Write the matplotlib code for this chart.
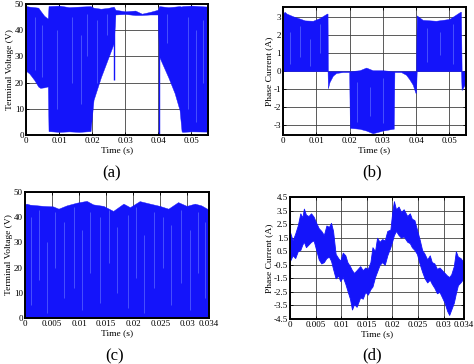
import matplotlib
matplotlib.use('Agg')
import matplotlib.pyplot as plt

plt.rcParams['font.family'] = ['Liberation Serif', 'DejaVu Serif']

BLUE = '#1414fa'
STREAK = '#5c68ff'

# ---- (a) terminal voltage, envelope of the PWM band (t in s, volts)
a_t = [0.0, 0.001, 0.0025, 0.0037, 0.0043, 0.0055, 0.0064, 0.0066,
       0.0068, 0.010, 0.013, 0.016, 0.0195, 0.0204, 0.0226, 0.0247,
       0.0265, 0.0270, 0.030, 0.033, 0.035, 0.0375, 0.0398,
       0.0402, 0.043, 0.0449, 0.0464, 0.0470, 0.0472, 0.050, 0.055]
a_hi = [49.2, 49.0, 48.8, 48.6, 47.5, 45.5, 44.6, 44.6,
        49.2, 49.4, 48.8, 49.0, 49.2, 48.6, 48.2, 48.5,
        49.0, 47.8, 47.2, 47.5, 46.3, 47.0, 47.8,
        49.2, 48.8, 49.0, 49.2, 49.0, 49.2, 49.4, 49.0]
a_lo = [24.5, 23.5, 21.0, 18.5, 18.0, 18.2, 18.5, 18.5,
        1.5, 1.2, 1.4, 1.2, 1.5, 13.4, 22.0, 29.0,
        35.0, 46.0, 46.2, 45.8, 45.8, 46.0, 46.0,
        30.0, 22.0, 16.0, 9.5, 1.5, 1.2, 1.4, 1.3]
a_spike_t = [0.0265, 0.0401]
a_spike_lo = [21.0, 0.0]
a_spike_hi = [46.0, 47.0]
# light streaks inside the band
a_st_t = [0.0027, 0.0047, 0.0093, 0.0139, 0.0165, 0.0185, 0.0215, 0.0245,
          0.0425, 0.0490, 0.0515, 0.0535]
a_st_lo = [25, 22, 10, 20, 12, 30, 20, 38, 35, 10, 5, 20]
a_st_hi = [45, 42, 40, 45, 38, 46, 44, 46, 46, 45, 40, 44]

# ---- (b) phase current
b_t = [0.0, 0.0005, 0.0011, 0.003, 0.0046, 0.0066, 0.009, 0.011, 0.0132, 0.0134,
       0.0135, 0.014, 0.015, 0.016, 0.018, 0.0199,
       0.0201, 0.023, 0.025, 0.027, 0.030, 0.0331, 0.0333,
       0.0335, 0.0355, 0.037, 0.038, 0.039, 0.0398, 0.0400,
       0.0402, 0.042, 0.046, 0.050, 0.0533, 0.0535,
       0.0537, 0.0545, 0.055]
b_hi = [3.2, 3.3, 3.2, 3.05, 2.95, 2.82, 2.8, 2.95, 3.2, 3.2,
        0.0, 0.0, 0.0, 0.0, 0.0, 0.0,
        0.0, 0.05, 0.2, 0.05, 0.05, 0.0, 0.0,
        0.0, 0.0, 0.0, 0.0, 0.0, 0.0, 0.0,
        3.1, 2.85, 2.8, 2.9, 3.3, 3.3,
        0.0, 0.0, 0.0]
b_lo = [0.0, 0.0, 0.0, 0.0, 0.0, 0.0, 0.0, 0.0, 0.0, 0.0,
        -0.95, -0.6, -0.25, -0.1, -0.05, -0.05,
        -3.15, -3.2, -3.3, -3.45, -3.3, -3.2, -3.2,
        -0.05, -0.05, -0.2, -0.45, -0.75, -1.2, -1.2,
        0.0, 0.0, 0.0, 0.0, 0.0, 0.0,
        -1.05, -0.8, -0.5]
b_st_t = [0.0022, 0.0052, 0.0082, 0.0112, 0.0222, 0.0262, 0.0302, 0.0432, 0.0472, 0.0512]
b_st_lo = [0.4, 0.8, 0.3, 1.0, -2.8, -2.5, -2.9, 0.5, 0.9, 0.4]
b_st_hi = [2.2, 2.5, 1.8, 2.6, -0.6, -0.9, -0.4, 2.4, 2.2, 2.6]

# ---- (c) terminal voltage, upper edge of the band
c_t = [0.0, 0.0003, 0.0009, 0.0034, 0.0052, 0.0062, 0.0077, 0.0096, 0.0114,
       0.0126, 0.0145, 0.0163, 0.0182, 0.0194, 0.0212, 0.0231, 0.0249,
       0.0265, 0.0283, 0.0299, 0.0314, 0.0326, 0.034]
c_hi = [45.2, 45.4, 45.0, 44.5, 44.3, 43.4, 44.7, 45.8, 46.5,
        45.1, 44.5, 42.5, 45.4, 44.0, 46.4, 45.4, 44.5,
        43.4, 46.0, 44.5, 45.4, 44.7, 43.0]
c_st_t = [0.0012, 0.0025, 0.0040, 0.0055, 0.0072, 0.0090, 0.0105, 0.0120,
          0.0138, 0.0155, 0.0170, 0.0190, 0.0205, 0.0220, 0.0238, 0.0255,
          0.0270, 0.0288, 0.0305, 0.0320, 0.0333]
c_st_lo = [5, 15, 2, 20, 8, 12, 3, 18, 6, 22, 10, 4, 16, 2, 12, 20, 5, 14, 3, 18, 8]
c_st_hi = [40, 43, 30, 42, 38, 44, 35, 42, 40, 43, 36, 41, 44, 33, 42, 40, 37, 43, 35, 42, 38]

# ---- (d) phase current, upper / lower edges of the noisy band
d_t = [0.0, 0.0005, 0.001, 0.0015, 0.002, 0.0024, 0.0027, 0.0031, 0.0036,
       0.0041, 0.0046, 0.0051, 0.0056, 0.0061, 0.0066, 0.0071, 0.0076,
       0.008, 0.0084, 0.0089, 0.0094, 0.0098, 0.0103, 0.0108, 0.0112,
       0.0117, 0.0121, 0.0125, 0.013, 0.0137, 0.0142, 0.0147, 0.0152,
       0.0157, 0.0161, 0.0166, 0.017, 0.0175, 0.018, 0.0185, 0.019,
       0.0196, 0.02, 0.0203, 0.0207, 0.0212, 0.0217, 0.0222, 0.0229,
       0.0234, 0.0238, 0.0243, 0.0248, 0.0253, 0.0258, 0.0263, 0.0268,
       0.0273, 0.0277, 0.0282, 0.0287, 0.0292, 0.0297, 0.0302, 0.0307,
       0.0311, 0.0315, 0.032, 0.0324, 0.0328, 0.0333, 0.0337, 0.034]
d_hi = [1.9, 1.3, 1.8, 2.4, 3.3, 3.0, 3.65, 3.2, 3.1,
        3.3, 3.05, 2.6, 2.2, 2.0, 1.7, 2.4, 2.3,
        2.6, 2.0, 0.3, 0.0, -0.2, 0.4, 0.2, -0.3,
        -0.6, -0.9, -1.1, -0.9, -0.6, -0.9, -0.7, -0.8,
        -0.3, 0.8, 0.5, 1.5, 1.2, 1.4, 1.3, 2.0,
        2.1, 3.5, 4.2, 3.6, 3.8, 3.4, 3.6, 3.1,
        3.3, 2.9, 2.8, 2.1, 1.4, 0.6, 0.3, -0.1,
        0.2, -0.3, -0.4, -0.8, -0.7, -0.9, -1.1, -1.3,
        -1.4, -1.2, -0.6, 0.5, 0.1, 0.0, -0.2, -0.4]
d_lo = [-0.2, 0.2, 0.0, 0.5, 0.6, 1.0, 1.2, 0.8, 1.0,
        1.2, 1.3, 0.6, -0.1, -0.4, -0.3, 0.0, 0.1,
        -0.2, -0.8, -1.5, -1.3, -1.7, -1.4, -1.9, -2.4,
        -3.0, -3.8, -3.4, -3.6, -2.9, -3.0, -2.5, -2.7,
        -2.3, -2.1, -1.4, -1.0, -0.5, -0.3, -0.5, 0.2,
        0.8, 1.3, 1.7, 2.0, 1.7, 1.5, 1.6, 1.2,
        1.1, 0.8, 0.6, 0.3, -0.4, -1.0, -1.5, -1.8,
        -1.6, -1.9, -2.2, -2.6, -2.5, -2.9, -3.3, -3.9,
        -4.2, -3.8, -3.3, -2.6, -2.0, -1.8, -1.6, -1.4]

# tick positions / labels
a_xt = [0, 0.01, 0.02, 0.03, 0.04, 0.05]
a_xl = ['0', '0.01', '0.02', '0.03', '0.04', '0.05']
a_yt = [0, 10, 20, 30, 40, 50]
b_yt = [-3, -2, -1, 0, 1, 2, 3]
c_xt = [0, 0.005, 0.01, 0.015, 0.02, 0.025, 0.03, 0.034]
c_xl = ['0', '0.005', '0.01', '0.015', '0.02', '0.025', '0.03', '0.034']
d_yt = [-4.5, -3.5, -2.5, -1.5, -0.5, 0.5, 1.5, 2.5, 3.5, 4.5]
d_yl = ['-4.5', '-3.5', '-2.5', '-1.5', '-0.5', '0.5', '1.5', '2.5', '3.5', '4.5']

fig = plt.figure(figsize=(4.74, 3.64), dpi=100)
axA = fig.add_axes([0.0549, 0.629, 0.384, 0.360])
axB = fig.add_axes([0.597, 0.629, 0.386, 0.352])
axC = fig.add_axes([0.0527, 0.1264, 0.388, 0.346])
axD = fig.add_axes([0.612, 0.1236, 0.367, 0.335])


def style(ax, xlim, ylim, xt, xl, yt, yl, ylabel):
    ax.set_xlim(*xlim)
    ax.set_ylim(*ylim)
    ax.set_xticks(xt)
    ax.set_xticklabels(xl)
    ax.set_yticks(yt)
    ax.set_yticklabels(yl)
    ax.set_axisbelow(True)
    ax.grid(True, color='0.25', linestyle='-', linewidth=0.6)
    ax.tick_params(direction='in', length=2, width=0.6, labelsize=6.5, pad=1.5,
                   top=True, right=True)
    for s in ax.spines.values():
        s.set_linewidth(1.4)
    ax.set_xlabel('Time (s)', fontsize=6.8, labelpad=0.5)
    ax.set_ylabel(ylabel, fontsize=6.8, labelpad=0.5)


axA.fill_between(a_t, a_lo, a_hi, color=BLUE, lw=0.3, edgecolor=BLUE)
axA.vlines(a_spike_t, a_spike_lo, a_spike_hi, color=BLUE, lw=1.0)
axA.vlines(a_st_t, a_st_lo, a_st_hi, color=STREAK, lw=0.5)
style(axA, (0, 0.055), (0, 50), a_xt, a_xl, a_yt, [str(v) for v in a_yt],
      'Terminal Voltage (V)')

axB.fill_between(b_t, b_lo, b_hi, color=BLUE, lw=0.3, edgecolor=BLUE)
axB.vlines(b_st_t, b_st_lo, b_st_hi, color=STREAK, lw=0.5)
style(axB, (0, 0.055), (-3.55, 3.57), a_xt, a_xl, b_yt, [str(v) for v in b_yt],
      'Phase Current (A)')

axC.fill_between(c_t, 0, c_hi, color=BLUE, lw=0.3, edgecolor=BLUE)
axC.vlines(c_st_t, c_st_lo, c_st_hi, color=STREAK, lw=0.5)
style(axC, (0, 0.034), (0, 50), c_xt, c_xl, a_yt, [str(v) for v in a_yt],
      'Terminal Voltage (V)')

axD.fill_between(d_t, d_lo, d_hi, color=BLUE, lw=0.6, edgecolor=BLUE)
style(axD, (0, 0.034), (-4.5, 4.5), c_xt, c_xl, d_yt, d_yl,
      'Phase Current (A)')

fig.text(112 / 474, 1 - 173 / 364, '(a)', fontsize=12, ha='center', va='center')
fig.text(372 / 474, 1 - 172 / 364, '(b)', fontsize=12, ha='center', va='center')
fig.text(115 / 474, 1 - 356 / 364, '(c)', fontsize=12, ha='center', va='center')
fig.text(372 / 474, 1 - 355 / 364, '(d)', fontsize=12, ha='center', va='center')

fig.savefig('out.png', dpi=100)
